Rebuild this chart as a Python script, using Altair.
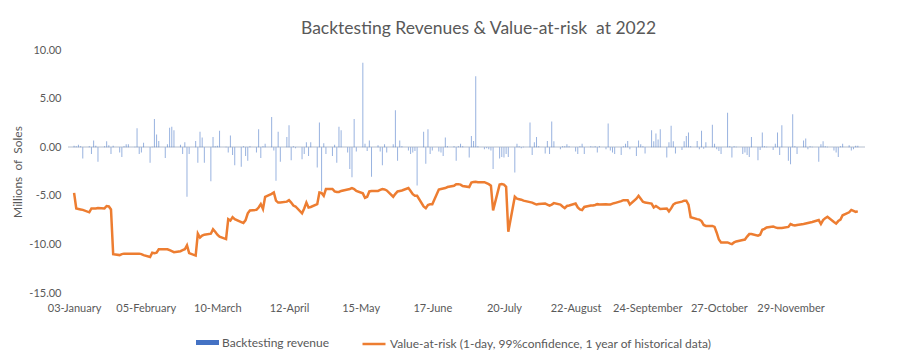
import altair as alt
import pandas as pd

# ---- data ----
title_text = "Backtesting Revenues & Value-at-risk\u00a0 at 2022"
y_title = "Millions\u00a0 of\u00a0 Soles"
rev_name = "Backtesting revenue"
var_name = "Value-at-risk (1-day, 99%confidence, 1 year of historical data)"

# trading days (Mon-Fri) of 2022
dates = pd.bdate_range("2022-01-03", "2022-12-30")

# daily backtesting revenue, millions of soles (one row = one week, Mon..Fri)
revenue = [
    0.15, 0.1, 0.25, 0.1, -1.15,
    0.1, -0.7, 0.7, 0.15, -1.5,
    0.1, 0.6, 0.2, -0.7, 0.15,
    -0.55, -1.0, 0.1, 0.3, 0.3,
    0.05, 1.95, -0.7, -0.55, 0.45,
    -1.6, 0.05, 2.9, 1.3, 0.65,
    -1.1, 0.3, 2.0, 2.1, 1.75,
    0.25, -0.7, 0.5, -5.1, -0.7,
    0.65, -1.6, 1.6, 1.0, -1.6,
    -3.5, 1.05, 0.1, 0.15, 1.7,
    0.05, -0.55, 1.2, -0.8, -1.85,
    -2.0, 0.1, -0.9, -1.4, 0.1,
    -0.55, 1.85, -1.1, 0.1, 0.35,
    3.1, -0.35, -3.45, 1.6, -1.5,
    1.05, 2.25, -1.35, 0.1, -0.1,
    -1.25, -0.7, 0.5, -0.9, 0.5,
    -2.1, 2.55, -4.5, 0.4, -0.7,
    -0.9, 0.25, -1.6, 2.1, 1.75,
    -0.55, -2.25, -3.1, 2.9, -0.45,
    8.7, 0.35, -0.4, 0.7, -3.05,
    0.2, -0.45, -1.85, 0.3, -0.55,
    0.3, 3.8, -1.4, 0.7, 0.1,
    -0.35, -0.7, -0.55, -0.4, -3.95,
    1.6, -1.7, 1.85, -0.7, -0.35,
    -0.45, -0.55, -0.9, 1.0, 0.1,
    0.1, -1.4, 0.1, 0.35, 0.1,
    -1.05, 1.15, 0.65, 7.3, 0.1,
    -0.2, -0.1, -0.2, -0.35, -2.25,
    -1.15, -1.0, -1.05, -0.7, -1.0,
    -2.6, 0.35, 0.1, -0.1, 0.05,
    2.55, -0.8, 0.5, 1.05, 0.1,
    -0.65, 0.65, -0.7, 2.65, 0.6,
    -0.2, 0.1, 0.1, 0.3, 0.1,
    -0.45, -0.7, 0.1, 0.35, -0.7,
    0.1, 0.05, 0.1, -0.55, 0.1,
    -0.2, 2.45, -0.35, -0.55, -0.7,
    -0.8, 0.1, 0.35, 0.65, -0.2,
    -0.9, 0.7, 0.3, 0.1, -0.65,
    1.75, 0.6, 1.4, 0.8, 1.85,
    -1.05, 0.5, 2.2, 0.6, -0.65,
    -0.3, 0.6, 1.15, 1.5, 0.1,
    0.65, -0.2, 1.7, -0.15, 0.5,
    2.3, 0.35, -0.2, -0.4, -0.7,
    3.55, 0.1, -1.05, 0.1, 0.05,
    -0.7, -0.55, -0.8, -1.0, 1.05,
    -1.35, -0.3, 1.5, 0.1, 0.05,
    -0.3, 0.35, 1.5, -0.8, 2.25,
    -1.4, -1.75, 3.4, 0.1, -0.7,
    0.7, 0.9, -0.2, 0.1, 0.05,
    -1.5, 0.3, 0.6, 0.1, 0.05,
    -0.35, -0.55, -1.0, 0.1, 0.35,
    0.2, -0.35, -0.2, 0.15, 0.15,
]

# daily value-at-risk, millions of soles
var_values = [
    -4.7, -6.3, -6.35, -6.4, -6.45,
    -6.7, -6.3, -6.3, -6.3, -6.25,
    -6.3, -6.05, -6.1, -6.4, -11.0,
    -11.1, -11.0, -10.95, -10.95, -10.95,
    -10.95, -10.95, -10.95, -11.0, -11.1,
    -11.3, -10.85, -10.9, -10.85, -10.5,
    -10.5, -10.5, -10.6, -10.7, -10.8,
    -10.7, -10.6, -10.5, -10.1, -10.9,
    -11.15, -8.9, -9.3, -9.1, -9.0,
    -8.9, -8.45, -8.7, -9.0, -9.2,
    -9.45, -7.4, -7.55, -7.2, -7.4,
    -7.7, -7.8, -7.5, -6.8, -6.5,
    -6.45, -6.2, -5.85, -6.35, -5.1,
    -4.8, -4.65, -5.5, -5.7, -5.7,
    -5.6, -5.45, -5.7, -6.0, -6.1,
    -6.8, -6.3, -5.7, -6.2, -6.15,
    -5.86, -4.66, -4.7, -5.0, -4.3,
    -4.3, -4.55, -4.6, -4.6, -4.5,
    -4.35, -4.3, -4.2, -4.3, -4.5,
    -4.75, -5.2, -5.1, -4.55, -4.5,
    -4.5, -4.4, -4.3, -4.35, -4.45,
    -5.1, -4.8, -4.55, -4.5, -4.45,
    -4.2, -4.5, -4.83, -5.0, -5.0,
    -6.1, -6.27, -5.95, -5.86, -5.86,
    -4.35, -4.3, -4.25, -4.2, -4.1,
    -3.97, -3.8, -3.8, -3.85, -4.0,
    -4.1, -3.63, -3.58, -3.55, -3.6,
    -3.6, -3.7, -3.8, -3.95, -6.5,
    -3.85, -3.8, -3.85, -4.08, -8.7,
    -5.1, -5.3, -5.35, -5.4, -5.5,
    -5.65, -5.7, -5.8, -5.9, -5.85,
    -5.8, -5.9, -6.0, -5.9, -5.75,
    -5.9, -6.1, -6.27, -6.05, -6.0,
    -5.8, -6.2, -6.4, -6.47, -6.15,
    -6.0, -6.0, -5.95, -5.86, -5.9,
    -5.86, -5.9, -5.9, -5.8, -5.75,
    -5.55, -5.45, -5.45, -5.45, -5.9,
    -5.3, -5.0, -5.3, -5.6, -5.7,
    -5.8, -6.2, -6.05, -6.2, -6.35,
    -6.3, -6.6, -6.3, -5.9, -5.75,
    -5.6, -5.5, -5.5, -5.9, -7.2,
    -7.4, -7.45, -7.6, -8.0, -8.1,
    -8.1, -8.2, -8.8, -9.5, -9.8,
    -9.8, -9.9, -9.97, -9.8, -9.7,
    -9.55, -9.5, -9.2, -8.94, -8.94,
    -9.1, -9.0, -8.5, -8.4, -8.25,
    -8.15, -8.25, -8.3, -8.3, -8.3,
    -8.2, -7.9, -8.0, -8.05, -8.0,
    -7.9, -7.85, -7.8, -7.75, -7.7,
    -7.5, -7.9, -7.5, -7.3, -7.15,
    -7.7, -7.85, -7.6, -7.45, -7.0,
    -6.7, -6.45, -6.55, -6.65, -6.6,
]

# x-axis tick labels (every 33 days)
tick_dates = [(2022, 1, 3), (2022, 2, 5), (2022, 3, 10), (2022, 4, 12), (2022, 5, 15),
              (2022, 6, 17), (2022, 7, 20), (2022, 8, 22), (2022, 9, 24), (2022, 10, 27),
              (2022, 11, 29)]
y_ticks = [-15, -10, -5, 0, 5, 10]

n = min(len(dates), len(revenue), len(var_values))
df = pd.DataFrame({
    "date": dates[:n],
    "revenue": revenue[:n],
    "var": var_values[:n],
    "s1": [rev_name] * n,
    "s2": [var_name] * n,
})

FONT = "Lato"
GREY = "#595959"

x_enc = alt.X(
    "date:T",
    scale=alt.Scale(domain=[alt.DateTime(year=2022, month=1, date=2, hours=12),
                            alt.DateTime(year=2022, month=12, date=31)]),
    axis=alt.Axis(
        title=None,
        values=[alt.DateTime(year=y, month=m, date=d) for (y, m, d) in tick_dates],
        format="%d-%B",
        labelPadding=9,
        labelFlush=False,
        labelOverlap=False,
    ),
)
y_scale = alt.Scale(domain=[-15, 10], nice=False)
y_axis = alt.Axis(
    title=y_title,
    values=y_ticks,
    labelExpr="datum.value < 0 ? '-' + format(-datum.value, '.2f') : format(datum.value, '.2f')",
    labelPadding=7,
    titlePadding=4,
)

base = alt.Chart(df)

zero = base.mark_rule(color="#D9DEE6", strokeWidth=1).encode(y=alt.datum(0))

bars = base.mark_bar(size=1, opacity=0.55).encode(
    x=x_enc,
    y=alt.Y("revenue:Q", scale=y_scale, axis=y_axis),
    color=alt.Color(
        "s1:N",
        scale=alt.Scale(domain=[rev_name], range=["#4472C4"]),
        legend=alt.Legend(
            title=None, orient="none", legendX=128, legendY=281,
            symbolType="M-1,-0.22L1,-0.22L1,0.22L-1,0.22Z", symbolSize=529,
            symbolOpacity=1, symbolStrokeWidth=0, labelOffset=3, labelLimit=0,
        ),
    ),
)

line = base.mark_line(strokeWidth=2.5).encode(
    x=alt.X("date:T"),
    y=alt.Y("var:Q", scale=y_scale),
    stroke=alt.Stroke(
        "s2:N",
        scale=alt.Scale(domain=[var_name], range=["#ED7D31"]),
        legend=alt.Legend(
            title=None, orient="none", legendX=293, legendY=281,
            symbolType="stroke", symbolSize=529, symbolStrokeWidth=2.5,
            labelOffset=3, labelLimit=0,
        ),
    ),
)

chart = alt.layer(zero, bars, line).properties(
    width=797,
    height=243,
    padding={"left": 3, "top": 11, "right": 5, "bottom": 5},
    title=alt.TitleParams(
        title_text, font=FONT, fontSize=17.5, fontWeight="normal", color=GREY,
        anchor="middle", dx=12, offset=7,
    ),
).configure_view(stroke=None).configure_axis(
    grid=False, domain=False, ticks=False,
    labelFont=FONT, labelFontSize=11, labelColor=GREY,
    titleFont=FONT, titleFontSize=12, titleColor=GREY, titleFontWeight="normal",
).configure_legend(
    labelFont=FONT, labelFontSize=12, labelColor=GREY,
)

chart.save("out.html", embed_options={"renderer": "svg", "actions": False})
